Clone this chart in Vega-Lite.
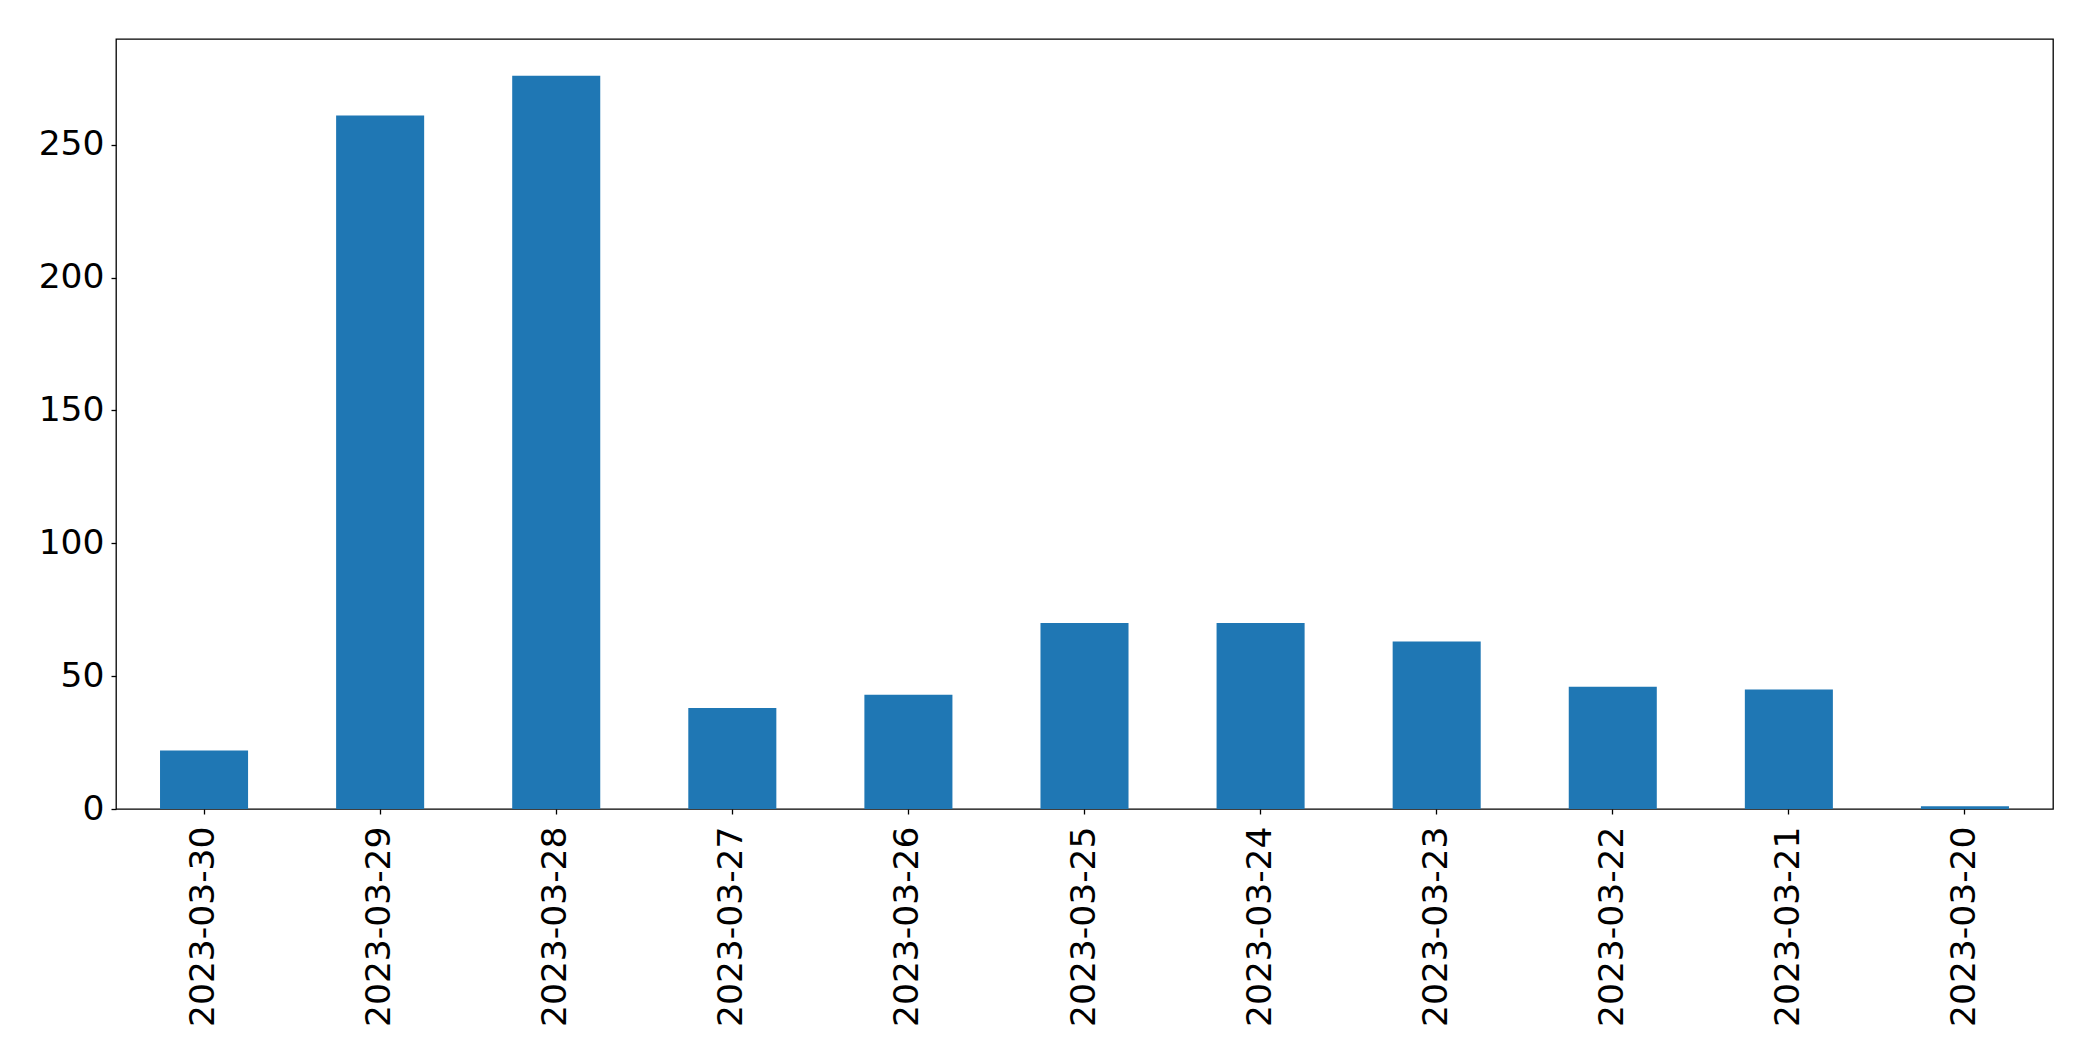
{
  "$schema": "https://vega.github.io/schema/vega-lite/v6.json",
  "autosize": "none",
  "width": 1937,
  "height": 770,
  "padding": {"left": 116, "top": 39, "right": 40, "bottom": 252},
  "background": "white",
  "config": {
    "font": "DejaVu Sans",
    "view": {"stroke": "black", "strokeWidth": 1.3},
    "axis": {"domain": false, "grid": false, "tickColor": "black", "tickSize": 5, "tickWidth": 1.3, "labelColor": "black", "labelFont": "DejaVu Sans", "labelFontSize": 34.5, "labelLimit": 0, "title": null}
  },
  "data": {
    "values": [
      {"date": "2023-03-30", "count": 22},
      {"date": "2023-03-29", "count": 261},
      {"date": "2023-03-28", "count": 276},
      {"date": "2023-03-27", "count": 38},
      {"date": "2023-03-26", "count": 43},
      {"date": "2023-03-25", "count": 70},
      {"date": "2023-03-24", "count": 70},
      {"date": "2023-03-23", "count": 63},
      {"date": "2023-03-22", "count": 46},
      {"date": "2023-03-21", "count": 45},
      {"date": "2023-03-20", "count": 1}
    ]
  },
  "mark": {"type": "bar", "color": "#1f77b4"},
  "encoding": {
    "x": {
      "field": "date", "type": "nominal", "sort": null,
      "scale": {"paddingInner": 0.5, "paddingOuter": 0.25},
      "axis": {"labelAngle": -90, "labelAlign": "right", "labelBaseline": "middle", "labelPadding": 12}
    },
    "y": {
      "field": "count", "type": "quantitative",
      "scale": {"domain": [0, 289.8], "nice": false, "zero": true},
      "axis": {"values": [0, 50, 100, 150, 200, 250], "labelPadding": 7}
    }
  }
}
